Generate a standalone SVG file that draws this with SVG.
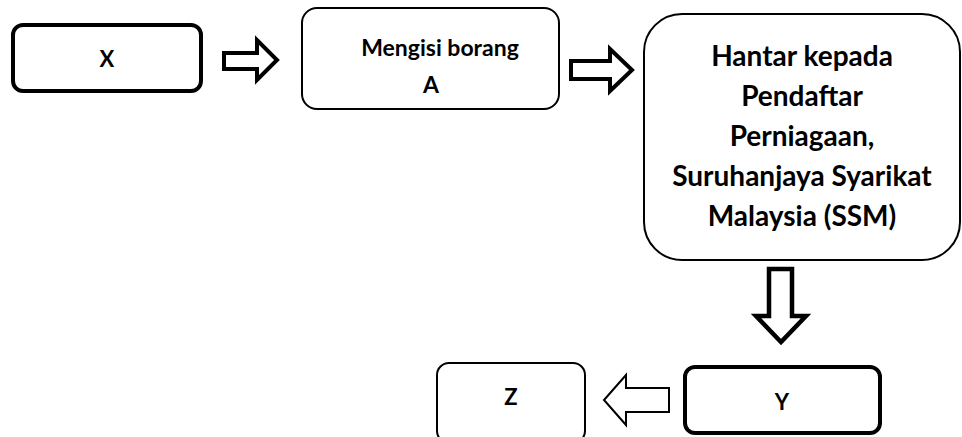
<svg xmlns="http://www.w3.org/2000/svg" width="962" height="437" viewBox="0 0 962 437">
<style>
.box{fill:#fff;stroke:#000}
.thick{stroke-width:4}
.thin{stroke-width:2}
.arr{fill:#fff;stroke:#000;stroke-linejoin:miter}
text{font-family:Lato,"Open Sans",sans-serif;font-weight:bold;font-size:22px;fill:#000;text-anchor:middle}
.mid{font-size:23px}
.big{font-size:28px}
</style>
<rect width="962" height="437" fill="#fff"/>
<g id="nodeX">
<rect class="box thick" x="13" y="25" width="188" height="66" rx="10"/>
<text x="107" y="67">X</text>
</g>
<g id="nodeA">
<rect class="box thin" x="302" y="8" width="257" height="101" rx="15"/>
<text class="mid" x="440" y="56">Mengisi borang</text>
<text class="mid" x="431" y="93">A</text>
</g>
<g id="nodeSSM">
<rect class="box thin" x="644" y="14" width="316" height="246" rx="38"/>
<text class="big" x="802" y="66">Hantar kepada</text>
<text class="big" x="802" y="106">Pendaftar</text>
<text class="big" x="802" y="146">Perniagaan,</text>
<text class="big" x="802" y="186">Suruhanjaya Syarikat</text>
<text class="big" x="802" y="226">Malaysia (SSM)</text>
</g>
<g id="nodeY">
<rect class="box thick" x="685" y="367" width="195" height="66" rx="10"/>
<text x="782" y="410">Y</text>
</g>
<g id="nodeZ">
<rect class="box thin" x="437" y="363" width="148" height="80" rx="12"/>
<text x="511" y="405">Z</text>
</g>
<g id="connectors">
<polygon class="arr" stroke-width="4" points="224,53 257,53 257,40 277,60 257,80 257,69 224,69"/>
<polygon class="arr" stroke-width="4" points="571,61 610,61 610,49 632,70 610,91 610,79 571,79"/>
<polygon class="arr" stroke-width="4.5" points="769,269 792,269 792,316 806,316 781,342 756,316 769,316"/>
<polygon class="arr" stroke-width="2" points="669,388 626,388 626,375 604,400 626,425 626,412 669,412"/>
</g>
</svg>
